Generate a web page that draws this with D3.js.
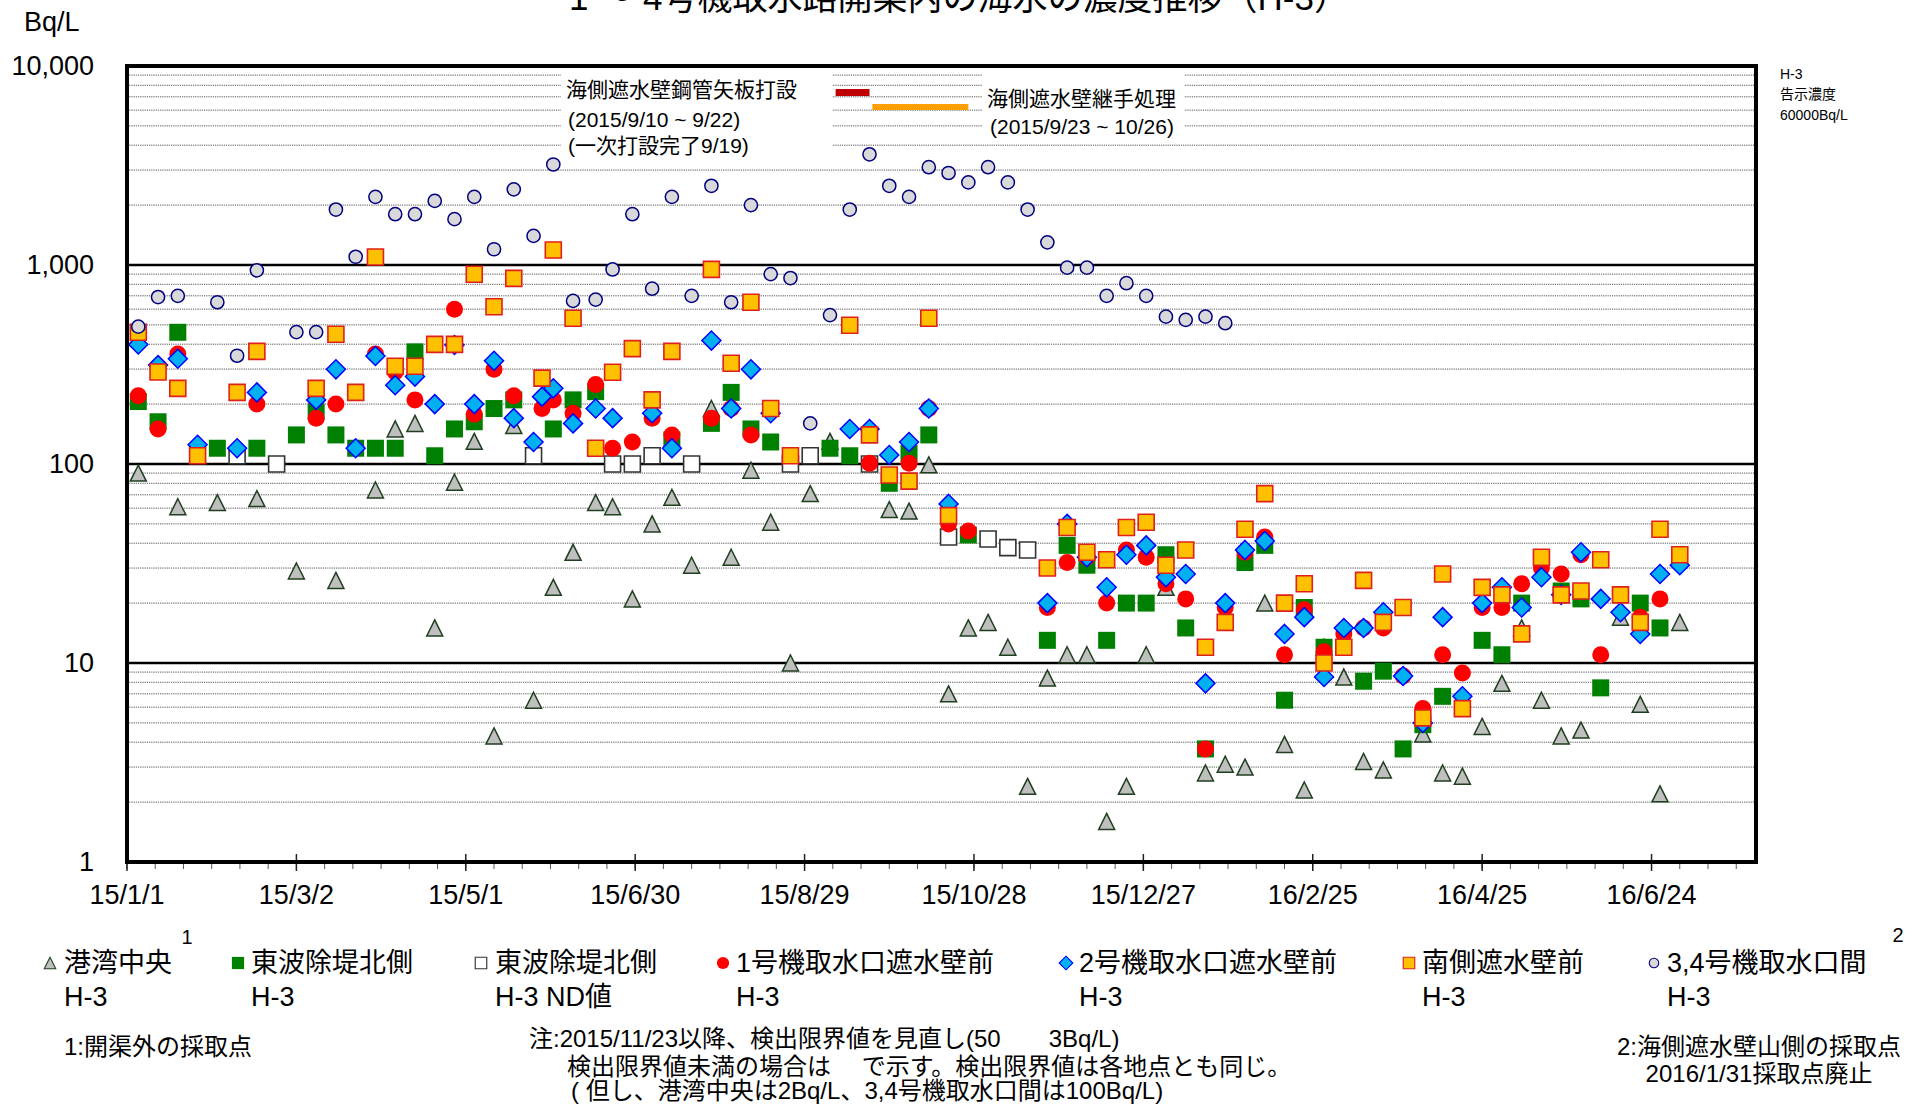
<!DOCTYPE html>
<html><head><meta charset="utf-8">
<script src="https://cdn.jsdelivr.net/npm/d3@7"></script>
<style>
body{margin:0;background:#fff;}
svg{display:block;}
text{font-family:"Liberation Sans",Arial,"Noto Sans CJK JP",sans-serif;fill:#000;}
</style></head><body>
<svg id="chart" width="1921" height="1105"></svg>
<script>
// ---------- data ----------
const xTickDates = ["2015-01-01","2015-03-02","2015-05-01","2015-06-30","2015-08-29","2015-10-28","2015-12-27","2016-02-25","2016-04-25","2016-06-24"];
const xTickLabels = ["15/1/1","15/3/2","15/5/1","15/6/30","15/8/29","15/10/28","15/12/27","16/2/25","16/4/25","16/6/24"];
const yTickValues = [1,10,100,1000,10000];
const yTickLabels = ["1","10","100","1,000","10,000"];

// 港湾中央 H-3
const harborH3 = [["2015-01-05",90],["2015-01-19",61],["2015-02-02",64],["2015-02-16",67],["2015-03-02",29],["2015-03-16",26],["2015-03-30",74],["2015-04-06",150],["2015-04-13",160],["2015-04-20",15],["2015-04-27",81],["2015-05-04",130],["2015-05-11",4.3],["2015-05-18",156],["2015-05-25",6.5],["2015-06-01",24],["2015-06-08",36],["2015-06-16",64],["2015-06-22",61],["2015-06-29",21],["2015-07-06",50],["2015-07-13",68],["2015-07-20",31],["2015-07-27",190],["2015-08-03",34],["2015-08-10",93],["2015-08-17",51],["2015-08-24",10],["2015-08-31",71],["2015-09-07",130],["2015-09-28",59],["2015-10-05",58],["2015-10-12",99],["2015-10-19",7.0],["2015-10-26",15],["2015-11-02",16],["2015-11-09",12],["2015-11-16",2.4],["2015-11-23",8.4],["2015-11-30",11],["2015-12-07",11],["2015-12-14",1.6],["2015-12-21",2.4],["2015-12-28",11],["2016-01-04",24],["2016-01-18",2.8],["2016-01-25",3.1],["2016-02-01",3.0],["2016-02-08",20],["2016-02-15",3.9],["2016-02-22",2.3],["2016-02-29",12],["2016-03-07",8.5],["2016-03-14",3.2],["2016-03-21",2.9],["2016-04-04",4.4],["2016-04-11",2.8],["2016-04-18",2.7],["2016-04-25",4.8],["2016-05-02",7.9],["2016-05-09",15],["2016-05-16",6.5],["2016-05-23",4.3],["2016-05-30",4.6],["2016-06-13",17],["2016-06-20",6.2],["2016-06-27",2.2],["2016-07-04",16]];

// 東波除堤北側 H-3
const eastNorthH3 = [["2015-01-05",206],["2015-01-12",163],["2015-01-19",459],["2015-02-02",120],["2015-02-16",120],["2015-03-02",140],["2015-03-09",183],["2015-03-16",140],["2015-03-23",120],["2015-03-30",120],["2015-04-06",120],["2015-04-13",366],["2015-04-20",110],["2015-04-27",150],["2015-05-04",163],["2015-05-11",190],["2015-05-18",210],["2015-06-01",150],["2015-06-08",210],["2015-06-16",231],["2015-07-13",132],["2015-07-27",160],["2015-08-03",229],["2015-08-10",150],["2015-08-17",129],["2015-09-07",120],["2015-09-14",110],["2015-09-28",80],["2015-10-05",113],["2015-10-12",140],["2015-10-26",44],["2015-11-23",13],["2015-11-30",39],["2015-12-07",31],["2015-12-14",13],["2015-12-21",20],["2015-12-28",20],["2016-01-04",35],["2016-01-11",15],["2016-01-18",3.7],["2016-02-01",32],["2016-02-08",39],["2016-02-15",6.5],["2016-02-22",19],["2016-02-29",12],["2016-03-14",8.1],["2016-03-21",9.1],["2016-03-28",3.7],["2016-04-04",4.9],["2016-04-11",6.8],["2016-04-25",13],["2016-05-02",11],["2016-05-09",20],["2016-05-23",23],["2016-05-30",21],["2016-06-06",7.5],["2016-06-20",20],["2016-06-27",15]];

// 東波除堤北側 H-3 ND値
const eastNorthND = [["2015-02-09",110],["2015-02-23",100],["2015-05-25",110],["2015-06-22",100],["2015-06-29",100],["2015-07-06",110],["2015-07-20",100],["2015-08-24",100],["2015-08-31",110],["2015-09-21",100],["2015-10-19",43],["2015-11-02",42],["2015-11-09",38],["2015-11-16",37]];

// 1号機取水口遮水壁前 H-3
const unit1H3 = [["2015-01-05",220],["2015-01-12",150],["2015-01-19",357],["2015-02-16",200],["2015-03-09",170],["2015-03-16",200],["2015-03-30",357],["2015-04-06",290],["2015-04-13",210],["2015-04-27",600],["2015-05-04",178],["2015-05-11",299],["2015-05-18",220],["2015-05-28",190],["2015-06-01",210],["2015-06-08",180],["2015-06-16",251],["2015-06-22",120],["2015-06-29",129],["2015-07-06",170],["2015-07-13",140],["2015-07-27",170],["2015-08-03",190],["2015-08-10",140],["2015-09-21",101],["2015-10-05",101],["2015-10-12",190],["2015-10-19",50],["2015-10-26",46],["2015-11-23",19],["2015-11-30",32],["2015-12-07",34],["2015-12-14",20],["2015-12-21",37],["2015-12-28",34],["2016-01-04",25],["2016-01-11",21],["2016-01-18",3.7],["2016-01-25",19],["2016-02-01",36],["2016-02-08",43],["2016-02-15",11],["2016-02-22",18.5],["2016-02-29",11.4],["2016-03-07",14],["2016-03-14",15],["2016-03-21",15],["2016-03-28",8.6],["2016-04-04",5.9],["2016-04-11",11],["2016-04-18",8.9],["2016-04-25",19],["2016-05-02",19],["2016-05-09",25],["2016-05-16",30],["2016-05-23",28],["2016-05-30",35],["2016-06-06",11],["2016-06-20",17],["2016-06-27",21]];

// 2号機取水口遮水壁前 H-3
const unit2H3 = [["2015-01-05",399],["2015-01-12",314],["2015-01-19",338],["2015-01-26",125],["2015-02-09",120],["2015-02-16",229],["2015-03-09",210],["2015-03-16",299],["2015-03-23",120],["2015-03-30",349],["2015-04-06",249],["2015-04-13",275],["2015-04-20",200],["2015-04-27",396],["2015-05-04",200],["2015-05-11",330],["2015-05-18",170],["2015-05-25",129],["2015-05-28",218],["2015-06-01",240],["2015-06-08",160],["2015-06-16",190],["2015-06-22",170],["2015-07-06",180],["2015-07-13",120],["2015-07-27",417],["2015-08-03",190],["2015-08-10",299],["2015-08-17",180],["2015-09-14",150],["2015-09-21",150],["2015-09-28",111],["2015-10-05",129],["2015-10-12",190],["2015-10-19",63],["2015-11-23",20],["2015-11-30",50],["2015-12-07",34],["2015-12-14",24],["2015-12-21",35],["2015-12-28",39],["2016-01-04",27],["2016-01-11",28],["2016-01-18",7.9],["2016-01-25",20],["2016-02-01",37],["2016-02-08",41],["2016-02-15",14],["2016-02-22",17],["2016-02-29",8.5],["2016-03-07",15],["2016-03-14",15],["2016-03-21",18],["2016-03-28",8.6],["2016-04-04",5.0],["2016-04-11",17],["2016-04-18",6.8],["2016-04-25",20],["2016-05-02",24],["2016-05-09",19],["2016-05-16",27],["2016-05-23",22],["2016-05-30",36],["2016-06-06",21],["2016-06-13",18],["2016-06-20",14],["2016-06-27",28],["2016-07-04",31]];

// 南側遮水壁前 H-3
const southH3 = [["2015-01-05",459],["2015-01-12",290],["2015-01-19",240],["2015-01-26",110],["2015-02-09",229],["2015-02-16",368],["2015-03-09",240],["2015-03-16",449],["2015-03-23",229],["2015-03-30",1097],["2015-04-06",310],["2015-04-13",310],["2015-04-20",399],["2015-04-27",399],["2015-05-04",898],["2015-05-11",617],["2015-05-18",857],["2015-05-28",270],["2015-06-01",1189],["2015-06-08",540],["2015-06-16",120],["2015-06-22",289],["2015-06-29",380],["2015-07-06",210],["2015-07-13",368],["2015-07-27",951],["2015-08-03",321],["2015-08-10",650],["2015-08-17",190],["2015-08-24",110],["2015-09-14",498],["2015-09-21",140],["2015-09-28",88],["2015-10-05",82],["2015-10-12",540],["2015-10-19",55],["2015-11-23",30],["2015-11-30",48],["2015-12-07",36],["2015-12-14",33],["2015-12-21",48],["2015-12-28",51],["2016-01-04",31],["2016-01-11",37],["2016-01-18",12],["2016-01-25",16],["2016-02-01",47],["2016-02-08",71],["2016-02-15",20],["2016-02-22",25],["2016-02-29",10],["2016-03-07",12],["2016-03-14",26],["2016-03-21",16],["2016-03-28",19],["2016-04-04",5.3],["2016-04-11",28],["2016-04-18",5.9],["2016-04-25",24],["2016-05-02",22],["2016-05-09",14],["2016-05-16",34],["2016-05-23",22],["2016-05-30",23],["2016-06-06",33],["2016-06-13",22],["2016-06-20",16],["2016-06-27",47],["2016-07-04",35]];

// 3,4号機取水口間 H-3
const unit34H3 = [["2015-01-05",490],["2015-01-12",690],["2015-01-19",700],["2015-02-02",650],["2015-02-09",350],["2015-02-16",940],["2015-03-02",460],["2015-03-09",460],["2015-03-16",1900],["2015-03-23",1100],["2015-03-30",2200],["2015-04-06",1800],["2015-04-13",1800],["2015-04-20",2100],["2015-04-27",1700],["2015-05-04",2200],["2015-05-11",1200],["2015-05-18",2400],["2015-05-25",1400],["2015-06-01",3200],["2015-06-08",660],["2015-06-16",670],["2015-06-22",950],["2015-06-29",1800],["2015-07-06",760],["2015-07-13",2200],["2015-07-20",700],["2015-07-27",2500],["2015-08-03",650],["2015-08-10",2000],["2015-08-17",900],["2015-08-24",860],["2015-08-31",160],["2015-09-07",560],["2015-09-14",1900],["2015-09-21",3600],["2015-09-28",2500],["2015-10-05",2200],["2015-10-12",3100],["2015-10-19",2900],["2015-10-26",2600],["2015-11-02",3100],["2015-11-09",2600],["2015-11-16",1900],["2015-11-23",1300],["2015-11-30",970],["2015-12-07",970],["2015-12-14",700],["2015-12-21",810],["2015-12-28",700],["2016-01-04",550],["2016-01-11",530],["2016-01-18",550],["2016-01-25",510]];

// construction periods
const pilePeriod = ["2015-09-09","2015-09-21"];
const jointPeriod = ["2015-09-22","2015-10-26"];

const legendNames = ["港湾中央","東波除堤北側","東波除堤北側","1号機取水口遮水壁前","2号機取水口遮水壁前","南側遮水壁前","3,4号機取水口間"];
const legendSub = ["H-3","H-3","H-3 ND値","H-3","H-3","H-3","H-3"];

// ---------- chart ----------
const parse = d3.timeParse("%Y-%m-%d");
const svg = d3.select("#chart");
const L = 127, R = 1756, T = 66, B = 862;
const x = d3.scaleTime().domain([parse("2015-01-01"), parse("2016-07-31")]).range([L, R]);
const y = d3.scaleLog().domain([1, 10000]).range([B, T]);

// minor gridlines
const minorVals = [];
[1,10,100,1000].forEach(d => { for (let k = 2; k <= 9; k++) minorVals.push(k*d); });
svg.append("g").selectAll("line").data(minorVals).join("line")
  .attr("x1", L).attr("x2", R).attr("y1", d => y(d)).attr("y2", d => y(d))
  .attr("stroke", "#555").attr("stroke-width", 1).attr("stroke-dasharray", "1.2,1");

// annotation white boxes hiding gridlines
svg.append("rect").attr("x", 561).attr("y", 70).attr("width", 271).attr("height", 88).attr("fill", "#fff");
svg.append("rect").attr("x", 982).attr("y", 70).attr("width", 202).attr("height", 68).attr("fill", "#fff");

// major gridlines
svg.append("g").selectAll("line").data([10,100,1000]).join("line")
  .attr("x1", L).attr("x2", R).attr("y1", d => y(d)).attr("y2", d => y(d))
  .attr("stroke", "#000").attr("stroke-width", 2.5);

// annotation bars
svg.append("rect").attr("x", x(parse(pilePeriod[0]))).attr("y", 89)
  .attr("width", x(parse(pilePeriod[1])) - x(parse(pilePeriod[0]))).attr("height", 7).attr("fill", "#c00000");
svg.append("rect").attr("x", x(parse(jointPeriod[0]))).attr("y", 104)
  .attr("width", x(parse(jointPeriod[1])) - x(parse(jointPeriod[0]))).attr("height", 6).attr("fill", "#ff9f00");

// annotation texts
const ann = svg.append("g").attr("font-size", 21);
[["海側遮水壁鋼管矢板打設",566,89],["(2015/9/10 ~ 9/22)",568,119],["(一次打設完了9/19)",568,145],
 ["海側遮水壁継手処理",987,98],["(2015/9/23 ~ 10/26)",990,126]].forEach(t => {
  ann.append("text").attr("x", t[1]).attr("y", t[2]).attr("dominant-baseline", "central").text(t[0]);
});

// x ticks
const start = parse("2015-01-01");
const minorTicks = d3.range(0, 578, 10).map(i => d3.timeDay.offset(start, i));
svg.append("g").selectAll("line").data(minorTicks).join("line")
  .attr("x1", d => x(d)).attr("x2", d => x(d)).attr("y1", B).attr("y2", B + 7)
  .attr("stroke", "#555").attr("stroke-width", 1);
svg.append("g").selectAll("line").data(xTickDates).join("line")
  .attr("x1", d => x(parse(d))).attr("x2", d => x(parse(d))).attr("y1", B - 8).attr("y2", B + 9)
  .attr("stroke", "#222").attr("stroke-width", 1.5);
svg.append("g").selectAll("text").data(xTickDates).join("text")
  .attr("x", d => x(parse(d))).attr("y", 895).attr("text-anchor", "middle")
  .attr("dominant-baseline", "central").attr("font-size", 27)
  .text((d, i) => xTickLabels[i]);

// y labels
svg.append("g").selectAll("text").data(yTickValues).join("text")
  .attr("x", 94).attr("y", d => y(d)).attr("text-anchor", "end")
  .attr("dominant-baseline", "central").attr("font-size", 27)
  .text((d, i) => yTickLabels[i]);
svg.append("text").attr("x", 24).attr("y", 22).attr("dominant-baseline", "central").attr("font-size", 27).text("Bq/L");

// title (partly cut off at top, as in the original)
svg.append("text").attr("x", 959).attr("y", 10).attr("text-anchor", "middle").attr("font-size", 35)
  .text("1 ～ 4号機取水路開渠内の海水の濃度推移（H-3）");

// right note
[["H-3",74],["告示濃度",94],["60000Bq/L",115]].forEach(t => {
  svg.append("text").attr("x", 1780).attr("y", t[1]).attr("dominant-baseline", "central").attr("font-size", 14).text(t[0]);
});

// marker shapes
const shapes = {
  triangle: { d: "M0,-8L8,8L-8,8Z", fill: "#bfbfbf", stroke: "#1f3f1f", sw: 1.5 },
  greenSquare: { d: "M-8.5,-8.5H8.5V8.5H-8.5Z", fill: "#008000", stroke: "none", sw: 0 },
  whiteSquare: { d: "M-8,-8H8V8H-8Z", fill: "#fff", stroke: "#333", sw: 1.6 },
  redCircle: { d: d3.symbol(d3.symbolCircle, Math.PI*8.5*8.5)(), fill: "#ff0000", stroke: "none", sw: 0 },
  diamond: { d: "M0,-9.5L9.5,0L0,9.5L-9.5,0Z", fill: "#00b0f0", stroke: "#0000ff", sw: 1.5 },
  orangeSquare: { d: "M-8,-8H8V8H-8Z", fill: "#ffc000", stroke: "#e0201a", sw: 1.6 },
  grayCircle: { d: d3.symbol(d3.symbolCircle, Math.PI*6.6*6.6)(), fill: "#d9d9d9", stroke: "#000080", sw: 1.5 }
};
const seriesDefs = [
  { data: harborH3, shape: "triangle" },
  { data: eastNorthH3, shape: "greenSquare" },
  { data: eastNorthND, shape: "whiteSquare" },
  { data: unit1H3, shape: "redCircle" },
  { data: unit2H3, shape: "diamond" },
  { data: southH3, shape: "orangeSquare" },
  { data: unit34H3, shape: "grayCircle" }
];
seriesDefs.forEach(s => {
  const sh = shapes[s.shape];
  svg.append("g").selectAll("path").data(s.data).join("path")
    .attr("transform", d => `translate(${x(parse(d[0]))},${y(d[1])})`)
    .attr("d", sh.d).attr("fill", sh.fill).attr("stroke", sh.stroke).attr("stroke-width", sh.sw);
});

// frame
svg.append("rect").attr("x", L).attr("y", T).attr("width", R - L).attr("height", B - T)
  .attr("fill", "none").attr("stroke", "#000").attr("stroke-width", 4);

// legend
const legMarkX = [50, 238, 481, 723, 1066, 1409, 1654];
const legTextX = [64, 251, 495, 736, 1079, 1422, 1667];
const legShapes = ["triangle","greenSquare","whiteSquare","redCircle","diamond","orangeSquare","grayCircle"];
legShapes.forEach((k, i) => {
  const sh = shapes[k];
  svg.append("path").attr("transform", `translate(${legMarkX[i]},963) scale(0.72)`)
    .attr("d", sh.d).attr("fill", sh.fill).attr("stroke", sh.stroke).attr("stroke-width", sh.sw);
  svg.append("text").attr("x", legTextX[i]).attr("y", 963).attr("dominant-baseline", "central").attr("font-size", 27).text(legendNames[i]);
  svg.append("text").attr("x", legTextX[i]).attr("y", 997).attr("dominant-baseline", "central").attr("font-size", 27).text(legendSub[i]);
});
svg.append("text").attr("x", 187).attr("y", 937).attr("text-anchor", "middle").attr("dominant-baseline", "central").attr("font-size", 20).text("1");
svg.append("text").attr("x", 1898).attr("y", 935).attr("text-anchor", "middle").attr("dominant-baseline", "central").attr("font-size", 20).text("2");

// notes
const notes = svg.append("g").attr("font-size", 24);
notes.append("text").attr("x", 64).attr("y", 1046).attr("dominant-baseline", "central").text("1:開渠外の採取点");
notes.append("text").attr("x", 529).attr("y", 1038).attr("dominant-baseline", "central").text("注:2015/11/23以降、検出限界値を見直し(50　　3Bq/L)");
notes.append("text").attr("x", 567).attr("y", 1066).attr("dominant-baseline", "central").text("検出限界値未満の場合は　 で示す。検出限界値は各地点とも同じ。");
notes.append("text").attr("x", 571).attr("y", 1090).attr("dominant-baseline", "central").text("( 但し、港湾中央は2Bq/L、3,4号機取水口間は100Bq/L)");
notes.append("text").attr("x", 1759).attr("y", 1046).attr("text-anchor", "middle").attr("dominant-baseline", "central").text("2:海側遮水壁山側の採取点");
notes.append("text").attr("x", 1759).attr("y", 1073).attr("text-anchor", "middle").attr("dominant-baseline", "central").text("2016/1/31採取点廃止");
</script>
</body></html>
